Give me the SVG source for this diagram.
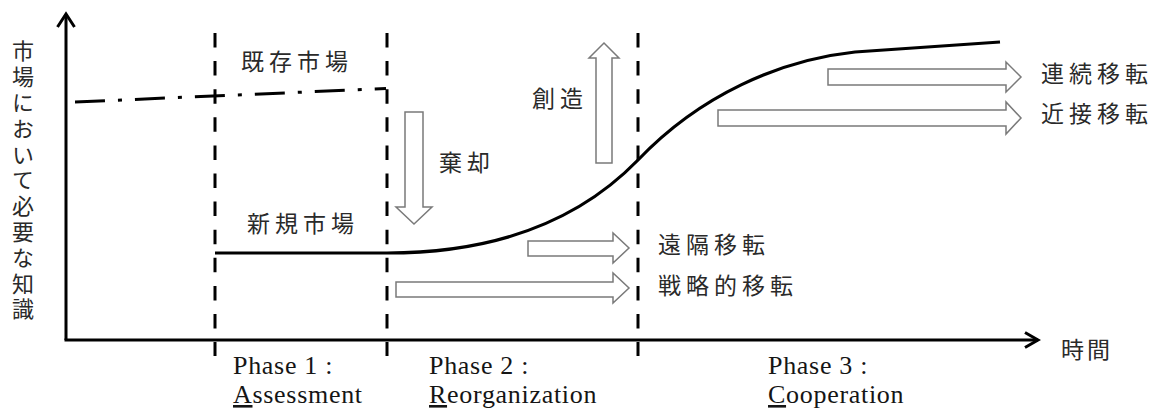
<svg xmlns="http://www.w3.org/2000/svg" width="1158" height="409" viewBox="0 0 1158 409">
<style>
.jp{font-family:"Noto Sans CJK JP","Noto Sans",sans-serif;font-size:23px;fill:#2a2a2a;letter-spacing:5px}
.ph{font-family:"Liberation Serif",serif;font-size:26px;fill:#151515;letter-spacing:0.7px}
.axis{stroke:#000;stroke-width:3;fill:none}
.phase{stroke:#000;stroke-width:3;fill:none;stroke-dasharray:14.5 13.6}
.blk{fill:#fff;stroke:#7a7a7a;stroke-width:1.5;stroke-linejoin:miter}
.curve{stroke:#000;stroke-width:3.2;fill:none}
</style>
<rect width="1158" height="409" fill="#fff"/>
<g id="phase-lines">
<line class="phase" x1="215" y1="33" x2="215" y2="356"/>
<line class="phase" x1="387" y1="33" x2="387" y2="356"/>
<line class="phase" x1="638" y1="33" x2="638" y2="356"/>
</g>
<g id="existing-market-line">
<line x1="75" y1="102" x2="386" y2="88.5" stroke="#000" stroke-width="3" stroke-dasharray="30 13 4 13"/>
</g>
<g id="knowledge-curve">
<path class="curve" d="M215,253 L387,253 C480,253 570,230 638,160 C700,95 780,60 855,52 L1000,42"/>
</g>
<g id="axes">
<line class="axis" x1="66" y1="14" x2="66" y2="340"/>
<line class="axis" x1="64.5" y1="340" x2="1038" y2="340"/>
<polyline class="axis" points="57.5,27 66,14 74.5,27"/>
<polyline class="axis" points="1025,332.5 1038,340 1025,347.5"/>
</g>
<g id="connectors">
<polygon id="arrow-discard" class="blk" points="405,112 423,112 423,207 432,207 414,224 396,207 405,207"/>
<polygon id="arrow-create" class="blk" points="596,163 612,163 612,58 619,58 604,43 589,58 596,58"/>
<polygon id="arrow-continuous" class="blk" points="828,69 1006,69 1006,62 1021,77 1006,92 1006,85 828,85"/>
<polygon id="arrow-proximate" class="blk" points="718,110 1006,110 1006,102 1021,118 1006,134 1006,126 718,126"/>
<polygon id="arrow-distant" class="blk" points="528,241 613,241 613,233 629,248 613,263 613,256 528,256"/>
<polygon id="arrow-strategic" class="blk" points="396,282 613,282 613,273 629,288 613,303 613,297 396,297"/>
</g>
<g id="y-label">
<text class="jp" x="23" y="40" style="font-size:22px;letter-spacing:3.8px;writing-mode:vertical-rl;text-orientation:upright">市場において必要な知識</text>
</g>
<g id="x-label"><text class="jp" style="letter-spacing:3px" x="1061" y="358">時間</text></g>
<g id="existing-market"><text class="jp" x="241" y="70">既存市場</text></g>
<g id="new-market"><text class="jp" x="247" y="232">新規市場</text></g>
<g id="discard"><text class="jp" x="439" y="171">棄却</text></g>
<g id="create"><text class="jp" x="532" y="107">創造</text></g>
<g id="continuous"><text class="jp" x="1041" y="82">連続移転</text></g>
<g id="proximate"><text class="jp" x="1041" y="122">近接移転</text></g>
<g id="distant"><text class="jp" x="658" y="253">遠隔移転</text></g>
<g id="strategic"><text class="jp" x="658" y="294">戦略的移転</text></g>
<g id="phase1"><text class="ph"><tspan x="233" y="374">Phase 1 :</tspan><tspan x="233" y="403" text-decoration="underline">A</tspan><tspan>ssessment</tspan></text></g>
<g id="phase2"><text class="ph"><tspan x="429" y="374">Phase 2 :</tspan><tspan x="429" y="403" text-decoration="underline">R</tspan><tspan>eorganization</tspan></text></g>
<g id="phase3"><text class="ph"><tspan x="768" y="374">Phase 3 :</tspan><tspan x="768" y="403" text-decoration="underline">C</tspan><tspan>ooperation</tspan></text></g>
</svg>
